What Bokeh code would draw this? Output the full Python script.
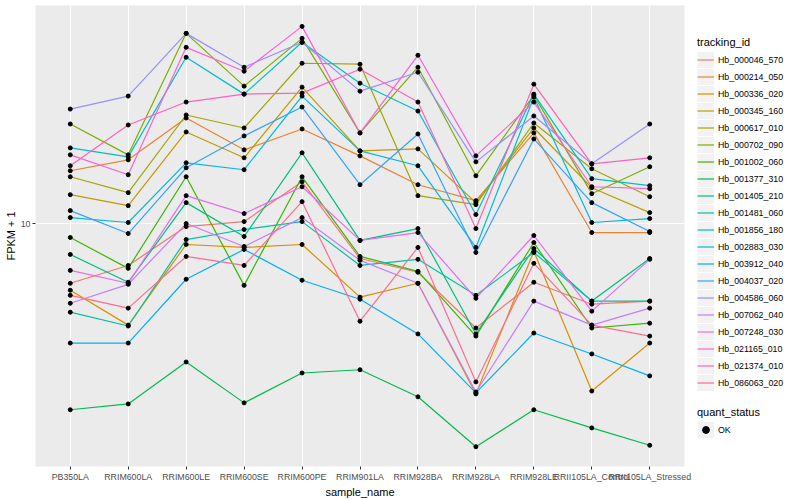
from bokeh.plotting import figure
from bokeh.layouts import row
from bokeh.models import FactorRange, Range1d, FixedTicker, Legend, LegendItem, PrintfTickFormatter
from bokeh.embed import file_html
from bokeh.resources import INLINE

samples = ["PB350LA", "RRIM600LA", "RRIM600LE", "RRIM600SE", "RRIM600PE", "RRIM901LA",
           "RRIM928BA", "RRIM928LA", "RRIM928LE", "RRII105LA_Control", "RRII105LA_Stressed"]

# FPKM + 1 per tracking_id, one value per sample
hb_000046_570 = [6.31, 7.24, 9.77, 10.15, 13.80, 7.64, 6.87, 4.47, 6.36, 5.37, 5.50]
hb_000214_050 = [15.02, 16.34, 22.56, 17.65, 20.73, 16.85, 13.49, 11.93, 20.11, 9.33, 9.33]
hb_000336_020 = [5.98, 4.57, 8.51, 8.32, 8.51, 5.67, 6.31, 2.69, 8.07, 2.75, 3.98]
hb_000345_160 = [12.49, 11.48, 20.26, 16.60, 28.62, 17.51, 17.78, 11.75, 20.89, 13.18, 10.88]
hb_000617_010 = [14.34, 12.69, 23.09, 20.89, 34.41, 34.15, 12.40, 11.57, 21.71, 15.25, 12.30]
hb_000702_090 = [21.54, 16.98, 43.32, 28.84, 41.69, 20.11, 33.37, 14.45, 26.92, 12.59, 15.49]
hb_001002_060 = [8.98, 7.08, 14.34, 6.21, 14.34, 7.76, 6.92, 4.20, 8.64, 4.47, 4.64]
hb_001377_310 = [2.38, 2.49, 3.44, 2.51, 3.16, 3.24, 2.63, 1.79, 2.38, 2.07, 1.81]
hb_001405_210 = [7.88, 6.36, 11.75, 9.05, 17.25, 8.78, 9.62, 4.27, 8.25, 5.50, 7.64]
hb_001481_060 = [5.05, 4.54, 8.84, 9.55, 10.15, 7.24, 7.59, 5.75, 8.00, 5.50, 5.50]
hb_001856_180 = [17.92, 16.72, 36.03, 27.12, 40.43, 29.51, 23.80, 10.72, 27.12, 14.13, 13.39]
hb_002883_030 = [10.47, 10.08, 15.97, 15.14, 26.71, 17.51, 15.61, 8.32, 26.51, 10.08, 10.39]
hb_003912_040 = [3.98, 3.98, 6.51, 8.19, 6.46, 5.58, 4.27, 2.71, 4.30, 3.66, 3.09]
hb_004037_020 = [11.05, 9.26, 15.37, 19.65, 24.55, 13.49, 19.95, 8.00, 19.20, 11.75, 9.40]
hb_004586_060 = [24.17, 26.71, 43.32, 33.37, 40.43, 27.75, 32.11, 16.09, 22.91, 15.85, 21.54]
hb_007062_040 = [5.41, 6.26, 10.00, 8.38, 10.47, 7.53, 6.31, 2.73, 5.50, 4.57, 5.21]
hb_007248_030 = [6.97, 6.31, 12.40, 10.80, 13.28, 8.78, 9.33, 5.62, 9.12, 5.09, 7.59]
hb_021165_010 = [16.98, 14.57, 38.90, 32.36, 45.71, 20.11, 36.59, 16.85, 25.51, 13.28, 13.08]
hb_021374_010 = [15.61, 21.38, 25.51, 27.12, 27.33, 32.86, 25.51, 9.62, 29.29, 15.85, 16.60]
hb_086063_020 = [5.75, 5.21, 7.76, 7.24, 11.84, 4.71, 8.32, 2.95, 7.36, 4.57, 4.20]

ids = ["Hb_000046_570", "Hb_000214_050", "Hb_000336_020", "Hb_000345_160", "Hb_000617_010",
       "Hb_000702_090", "Hb_001002_060", "Hb_001377_310", "Hb_001405_210", "Hb_001481_060",
       "Hb_001856_180", "Hb_002883_030", "Hb_003912_040", "Hb_004037_020", "Hb_004586_060",
       "Hb_007062_040", "Hb_007248_030", "Hb_021165_010", "Hb_021374_010", "Hb_086063_020"]
series = [hb_000046_570, hb_000214_050, hb_000336_020, hb_000345_160, hb_000617_010,
          hb_000702_090, hb_001002_060, hb_001377_310, hb_001405_210, hb_001481_060,
          hb_001856_180, hb_002883_030, hb_003912_040, hb_004037_020, hb_004586_060,
          hb_007062_040, hb_007248_030, hb_021165_010, hb_021374_010, hb_086063_020]
colors = ["#F8766D", "#EA8331", "#D89000", "#C09B00", "#A3A500", "#7CAE00", "#39B600", "#00BB4E",
          "#00BF7D", "#00C1A3", "#00BFC4", "#00BAE0", "#00B0F6", "#35A2FF", "#9590FF", "#C77CFF",
          "#E76BF3", "#FA62DB", "#FF62BC", "#FF6C91"]
status_levels = ["OK"]
y_ticks = [10]

FONT = "Liberation Sans"
p = figure(x_range=FactorRange(factors=samples, range_padding=0.1, range_padding_units="absolute"),
           y_range=Range1d(1.537, 53.70), y_axis_type="log",
           width=696, height=500, min_border_left=35, min_border_right=12,
           min_border_top=5, min_border_bottom=32,
           output_backend="svg", toolbar_location=None)
p.background_fill_color = "#EBEBEB"
p.border_fill_color = "white"
p.outline_line_color = None

p.xgrid.grid_line_color = "white"
p.xgrid.grid_line_width = 1.1
p.ygrid.grid_line_color = "white"
p.ygrid.grid_line_width = 1.1
p.ygrid.ticker = FixedTicker(ticks=y_ticks)
p.yaxis.ticker = FixedTicker(ticks=y_ticks, minor_ticks=[])
p.yaxis.formatter = PrintfTickFormatter(format="%d")
p.ygrid.minor_grid_line_color = None

for ax in (p.xaxis[0], p.yaxis[0]):
    ax.axis_line_color = None
    ax.major_tick_line_color = "#333333"
    ax.major_tick_in = 0
    ax.major_tick_out = 3
    ax.minor_tick_line_color = None
    ax.major_label_text_font = FONT
    ax.major_label_text_font_size = "8.8px"
    ax.major_label_text_color = "#4D4D4D"
    ax.major_label_standoff = 2
    ax.axis_label_text_font = FONT
    ax.axis_label_text_font_size = "11px"
    ax.axis_label_text_font_style = "normal"
    ax.axis_label_text_color = "black"
    ax.axis_label_standoff = 1
p.xaxis.axis_label = "sample_name"
p.yaxis.axis_label = "FPKM + 1"

for col, vals in zip(colors, series):
    p.line(samples, vals, line_color=col, line_width=1.2)
for vals in series:
    p.scatter(samples, vals, size=4, marker="circle", color="black")

# legend panel (its key renderers sit outside the visible range)
q = figure(width=104, height=500, x_range=Range1d(0, 1), y_range=Range1d(0, 1),
           min_border=0, x_axis_location=None, y_axis_location=None,
           output_backend="svg", toolbar_location=None)
q.grid.visible = False
q.outline_line_color = None
q.background_fill_color = "white"
q.border_fill_color = "white"

off = [5, 6]
items = []
for name, col in zip(ids, colors):
    bg = q.line(x=off, y=off, line_color="#F2F2F2", line_width=16)
    ln = q.line(x=off, y=off, line_color=col, line_width=1.2)
    items.append(LegendItem(label=name, renderers=[bg, ln]))
items2 = []
for lev in status_levels:
    bg = q.line(x=off, y=off, line_color="#F2F2F2", line_width=16)
    pt = q.scatter(x=off, y=off, marker="circle", size=4, color="black")
    items2.append(LegendItem(label=lev, renderers=[bg, pt]))


def style(lg, title):
    lg.title = title
    lg.title_text_font = FONT
    lg.title_text_font_size = "11px"
    lg.title_text_font_style = "normal"
    lg.title_text_color = "black"
    lg.title_standoff = 3
    lg.label_text_font = FONT
    lg.label_text_font_size = "8.8px"
    lg.label_text_color = "black"
    lg.glyph_width = 17
    lg.glyph_height = 17
    lg.label_height = 17
    lg.label_standoff = 4
    lg.spacing = 0
    lg.padding = 0
    lg.margin = 0
    lg.border_line_color = None
    lg.background_fill_alpha = 0


lg1 = Legend(items=items, location=(1, 75))
style(lg1, "tracking_id")
lg2 = Legend(items=items2, location=(1, 28))
style(lg2, "quant_status")
q.add_layout(lg1, "center")
q.add_layout(lg2, "center")

layout = row(p, q, spacing=0)
open("out.html", "w").write(file_html(layout, INLINE))
